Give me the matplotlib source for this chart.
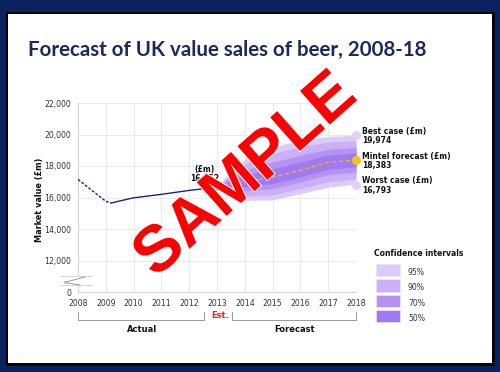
import matplotlib
matplotlib.use("Agg")
import matplotlib.pyplot as plt
from matplotlib.patches import Rectangle
from matplotlib.lines import Line2D
import matplotlib.patheffects as pe
from matplotlib.transforms import blended_transform_factory

# ---------------- data ----------------
years_ticks = [2008, 2009, 2010, 2011, 2012, 2013, 2014, 2015, 2016, 2017, 2018]
y_ticks = [10000, 12000, 14000, 16000, 18000, 20000, 22000]
y_tick_labels = ["0", "12,000", "14,000", "16,000", "18,000", "20,000", "22,000"]

actual_dash_x = [2008, 2008.5, 2009.0, 2009.2]
actual_dash_y = [17150, 16450, 15760, 15650]
actual_x = [2009.2, 2009.5, 2010, 2011, 2012, 2013]
actual_y = [15650, 15780, 15980, 16200, 16450, 16652]

fc_x = [2013, 2013.5, 2014, 2015, 2016, 2017, 2018]
forecast = [16652, 16830, 17010, 17290, 17720, 18240, 18383]
ci95_hi = [16652, 17700, 18450, 19200, 19650, 19880, 19950]
ci95_lo = [16652, 16250, 15820, 15850, 16250, 16650, 16850]
ci90_hi = [16652, 17510, 18130, 18780, 19230, 19520, 19600]
ci90_lo = [16652, 16380, 16080, 16170, 16570, 17000, 17190]
ci70_hi = [16652, 17265, 17730, 18245, 18685, 19060, 19165]
ci70_lo = [16652, 16540, 16415, 16570, 16985, 17445, 17615]
ci50_hi = [16652, 17075, 17415, 17825, 18260, 18700, 18820]
ci50_lo = [16652, 16670, 16675, 16885, 17310, 17795, 17955]

best_case = 19974
worst_case = 16793
mintel_2018 = 18383
est_2013 = 16652

ci_labels = ["95%", "90%", "70%", "50%"]
ci_colors = ["#dccbfa", "#c9b0f7", "#b493f3", "#a07af0"]

# ---------------- figure ----------------
W, H = 500, 372
fig = plt.figure(figsize=(W / 100, H / 100), dpi=100, facecolor="#0b2260")


def fx(x):
    return x / W


def fy(y):
    return 1 - y / H


# panel with dark edge/shadow
fig.patches.append(Rectangle((fx(6), fy(366)), fx(489), 354 / H, transform=fig.transFigure,
                             facecolor="#050505", edgecolor="none", zorder=-2))
fig.patches.append(Rectangle((fx(8), fy(363)), fx(484), 349 / H, transform=fig.transFigure,
                             facecolor="white", edgecolor="none", zorder=-1))

fig.text(fx(28), fy(50), "Forecast of UK value sales of beer, 2008-18", fontsize=14.8,
         fontweight="bold", family="Lato", color="#1b2a5e", va="center", ha="left")

ax = fig.add_axes([fx(78), fy(292), fx(356) - fx(78), fy(103) - fy(292)])
ax.set_facecolor("none")
ax.set_xlim(2008, 2018)
ax.set_ylim(10000, 22000)
ax.set_xticks(years_ticks)
ax.set_xticklabels([str(y) for y in years_ticks])
ax.set_yticks(y_ticks)
ax.set_yticklabels(y_tick_labels)
ax.tick_params(length=0, labelsize=5.6, labelcolor="#333333")
ax.tick_params(axis="x", pad=5)
ax.tick_params(axis="y", pad=5)
for lab in ax.get_xticklabels() + ax.get_yticklabels():
    lab.set_family("DejaVu Sans")
ax.grid(True, color="#e8e8e8", linewidth=0.6)
ax.set_axisbelow(True)
for s in ["top", "right"]:
    ax.spines[s].set_visible(False)
for s in ["left", "bottom"]:
    ax.spines[s].set_color("#d6d6d6")
    ax.spines[s].set_linewidth(0.8)

ax.set_ylabel("Market value (£m)", fontsize=5.9, fontweight="bold", color="#111111")
ax.yaxis.set_label_coords(-0.122, 0.49)

# fan chart
bands = [(ci95_lo, ci95_hi), (ci90_lo, ci90_hi), (ci70_lo, ci70_hi), (ci50_lo, ci50_hi)]
for (lo, hi), col in zip(bands, ci_colors):
    ax.fill_between(fc_x, lo, hi, color=col, linewidth=0, zorder=2)

# lines
ax.plot(actual_dash_x, actual_dash_y, color="#1f1f8a", lw=1.0, ls=(0, (2, 1.2)), zorder=3)
ax.plot(actual_x, actual_y, color="#1f1f8a", lw=1.0, zorder=3)
ax.plot(fc_x, forecast, color="#f2b41c", lw=1.0, ls=(0, (3, 2)), zorder=4)
ax.plot([2013], [est_2013], marker="o", ms=3, color="#1f1f8a", zorder=4)

ax.plot([2018], [best_case], marker="o", ms=5.5, color="#e2d0f8", clip_on=False, zorder=5)
ax.plot([2018], [worst_case], marker="o", ms=5.5, color="#e2d0f8", clip_on=False, zorder=5)
ax.plot([2018], [mintel_2018], marker="o", ms=5.5, color="#f7c21b", clip_on=False, zorder=5)

ax.annotate("(£m)\n{:,}".format(est_2013), xy=(2012.55, est_2013), xytext=(0, 3),
            textcoords="offset points", ha="center", va="bottom", fontsize=5.5,
            fontweight="bold", color="#111111", linespacing=1.05, zorder=6)

# right labels
for y0, name, val in [(131.5, "Best case (£m)", best_case), (156.5, "Mintel forecast (£m)", mintel_2018),
                      (181, "Worst case (£m)", worst_case)]:
    fig.text(fx(362.5), fy(y0), name, fontsize=5.5, fontweight="bold", color="#111111", va="center")
    fig.text(fx(362.5), fy(y0 + 9), "{:,}".format(val), fontsize=5.5, fontweight="bold",
             color="#111111", va="center")

# legend
fig.text(fx(374), fy(254), "Confidence intervals", fontsize=5.5, fontweight="bold", color="#111111",
         va="center")
sw_tops = [263.5, 279, 294.5, 309.5]
for top, lab, col in zip(sw_tops, ci_labels, ci_colors):
    fig.patches.append(Rectangle((fx(376), fy(top + 12.5)), 24 / W, 12.5 / H, transform=fig.transFigure,
                                 facecolor=col, edgecolor="#ece4fb", linewidth=0.5, zorder=2))
    fig.text(fx(408), fy(top + 9), lab, fontsize=5.6, color="#333333", va="center")

# axis break
fig.patches.append(Rectangle((fx(74), fy(285)), 8 / W, 9 / H, transform=fig.transFigure,
                             facecolor="white", edgecolor="none", zorder=3))
fig.lines.append(Line2D([fx(60), fx(92)], [fy(276), fy(276)], transform=fig.transFigure,
                        color="#cfcfcf", lw=0.6, zorder=4))
fig.lines.append(Line2D([fx(60), fx(92)], [fy(285), fy(285)], transform=fig.transFigure,
                        color="#cfcfcf", lw=0.6, zorder=4))
fig.lines.append(Line2D([fx(85), fx(64), fx(80)], [fy(277), fy(282.5), fy(285)],
                        transform=fig.transFigure, color="#9a9a9a", lw=0.7, zorder=4))

# bottom brackets
bt = blended_transform_factory(ax.transData, fig.transFigure)
for x0, x1 in [(2008, 2012.55), (2013.55, 2018)]:
    ax.add_line(Line2D([x0, x0, x1, x1], [fy(312), fy(319.5), fy(319.5), fy(312)], transform=bt,
                       color="#9a9a9a", lw=0.7, clip_on=False))
ax.text(2010.3, fy(329), "Actual", transform=bt, ha="center", va="center", fontsize=6,
        fontweight="bold", color="#111111")
ax.text(2015.8, fy(329), "Forecast", transform=bt, ha="center", va="center", fontsize=6,
        fontweight="bold", color="#111111")
ax.text(2013.1, fy(315.5), "Est.", transform=bt, ha="center", va="center", fontsize=6,
        fontweight="bold", color="#ff1a1a")

# watermark
fig.text(fx(246), fy(176), "SAMPLE", fontsize=47, fontweight="bold", family="Liberation Sans",
         color="#ff0000", rotation=41.5, ha="center", va="center", rotation_mode="anchor",
         path_effects=[pe.withStroke(linewidth=1.5, foreground="white")], zorder=10)

fig.savefig("out.png", dpi=100, facecolor=fig.get_facecolor())
